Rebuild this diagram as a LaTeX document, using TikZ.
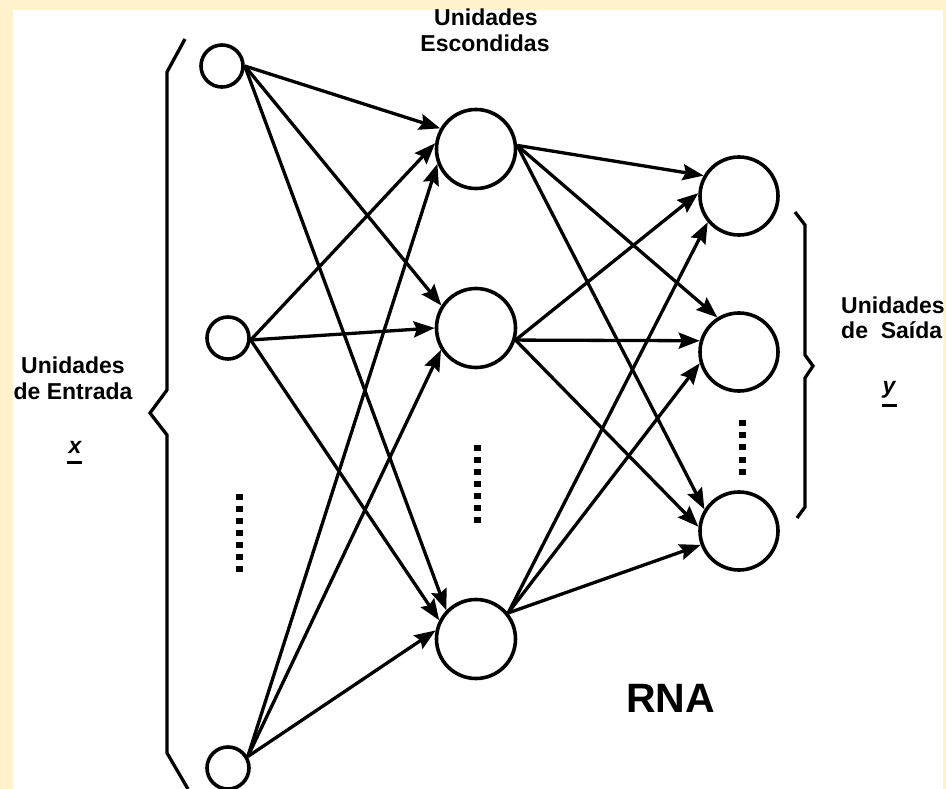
\documentclass[tikz,border=0pt]{standalone}
\usepackage{fontspec}
\setmainfont{Liberation Sans}
\usetikzlibrary{arrows.meta}
\definecolor{framecream}{RGB}{255,242,204}

\begin{document}
\begin{tikzpicture}[x=1pt,y=-1pt,
  unit/.style={circle,draw,line width=3.6pt,inner sep=0pt,fill=white},
  inunit/.style={unit,minimum size=42pt},
  hidunit/.style={unit,minimum size=79pt},
  outunit/.style={unit,minimum size=78pt},
  link/.style={line width=3.3pt,-{Stealth[length=21pt,width=16pt,inset=3pt]}},
  brace/.style={line width=3.3pt,line join=miter},
  lbl/.style={font=\bfseries\fontsize{23}{26}\selectfont,inner sep=0pt,text height=16pt,text depth=1pt},
  dotsq/.style={fill=black}
]
% page and frame
\useasboundingbox (0,0) rectangle (946,789);
\fill[framecream] (0,0) rectangle (946,789);
\fill[white] (13,10) rectangle (943,789);

% units
\node[inunit] (i1) at (222,66) {};
\node[inunit] (i2) at (228,338) {};
\node[inunit] (i3) at (228,768) {};
\node[hidunit] (h1) at (476,149) {};
\node[hidunit] (h2) at (476,328) {};
\node[hidunit] (h3) at (476,639) {};
\node[outunit] (o1) at (739,196) {};
\node[outunit] (o2) at (739,352) {};
\node[outunit] (o3) at (739,531) {};

% input -> hidden
\draw[link] (i1.east) -- (h1.150);
\draw[link] (i1.east) -- (h2.147);
\draw[link] (i1.east) -- (h3.136);
\draw[link] (i2.-5) -- (h1.172);
\draw[link] (i2.-5) -- (h2.180);
\draw[link] (i2.-5) -- (h3.153);
\draw[link] (i3.30) -- (h1.201);
\draw[link] (i3.30) -- (h2.212);
\draw[link] (i3.30) -- (h3.168);

% hidden -> output
\draw[link] (h1.5) -- (o1.150);
\draw[link] (h1.5) -- (o2.122);
\draw[link] (h1.5) -- (o3.148);
\draw[link] (h2.-17) -- (o1.176);
\draw[link] (h2.-17) -- (o2.164);
\draw[link] (h2.-17) -- (o3.174);
\draw[link] (h3.39) -- (o1.220);
\draw[link] (h3.39) -- (o2.196);
\draw[link] (h3.39) -- (o3.200);

% braces
\draw[brace] (185,39) -- (167,72) -- (167,390) -- (150,413) -- (167,435) -- (167,753) -- (188,789);
\draw[brace] (795,212) -- (805,225) -- (805,355) -- (813,366) -- (805,378) -- (805,507) -- (797,518);

% ellipsis dots
\foreach \yy in {497,509,521,533,545,557,569}
  \fill[dotsq] (235.5,\yy-3.25) rectangle ++(7,6.5);
\foreach \yy in {448,460,472,484,496,508,520}
  \fill[dotsq] (473.5,\yy-3.25) rectangle ++(7,6.5);
\foreach \yy in {423,435,447,460,472}
  \fill[dotsq] (738.5,\yy-3.25) rectangle ++(7,6.5);

% labels
\node[lbl,anchor=base] (hidA) at (486,26) {Unidades};
\node[lbl,anchor=base] (hidB) at (485,52) {Escondidas};
\node[lbl,anchor=base] (inA) at (73,373) {Unidades};
\node[lbl,anchor=base] (inB) at (73,399) {de Entrada};
\node[lbl,anchor=base] (xv) at (75,453) {\itshape x};
\draw[line width=3pt] (67,462) -- (82,462);
\node[lbl,anchor=base west] (outA) at (841,313) {Unidades};
\node[lbl,anchor=base west] (outB) at (841,338) {de\ \ Saída};
\node[lbl,anchor=base] (yv) at (889,393) {\itshape y};
\draw[line width=3pt] (882,405) -- (897,405);
\node[font=\bfseries\fontsize{41}{48}\selectfont,inner sep=0pt,anchor=base west] (rna) at (626,712) {RNA};
\end{tikzpicture}
\end{document}
